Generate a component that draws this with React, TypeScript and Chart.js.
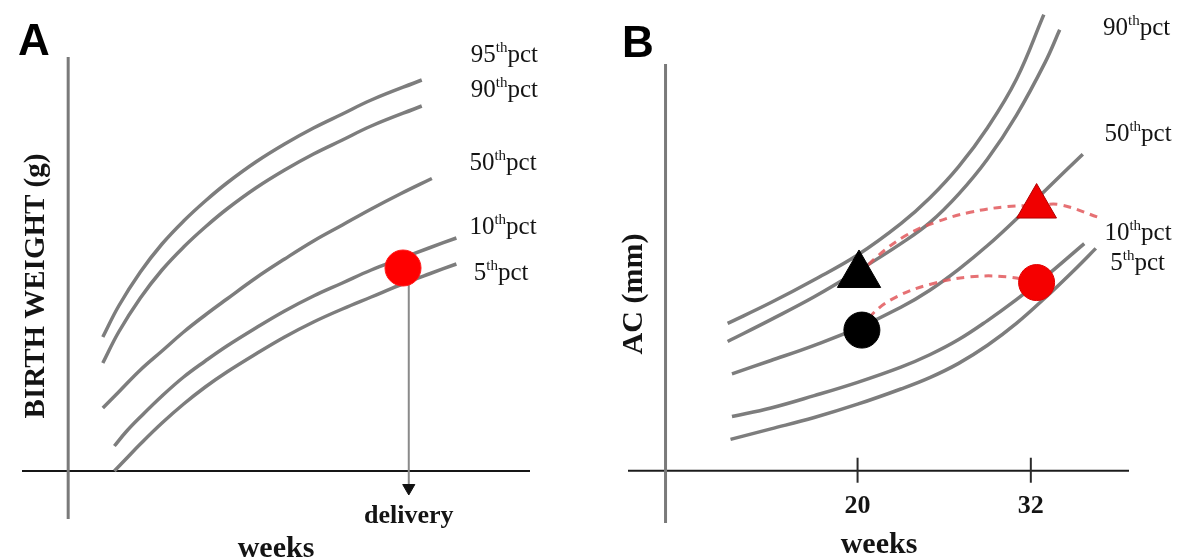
import React, { useEffect, useRef } from "react";
import { Chart, registerables } from "chart.js";

Chart.register(...registerables);

// ---------------- Panel A : birth weight percentiles (x: weeks, y: grams) ----------------
const A_WEEKS_UPPER = [9.4, 10.5, 12, 13.5, 15, 16.5, 18, 20, 22, 24, 26, 28, 31.5];
const A_P95 = [1340, 1650, 1990, 2270, 2500, 2700, 2880, 3090, 3270, 3430, 3570, 3710, 3910];
const A_P90 = [1080, 1390, 1730, 2010, 2240, 2440, 2620, 2830, 3010, 3170, 3310, 3450, 3650];
const A_WEEKS_MID = [9.4, 10.5, 12, 13.5, 15, 16.5, 18, 20, 22, 24, 26, 28, 30, 32.2];
const A_P50 = [630, 790, 1010, 1200, 1390, 1560, 1720, 1930, 2120, 2300, 2460, 2620, 2770, 2925];
const A_WEEKS_LOWER = [10.2, 11, 12, 13.5, 15, 16.5, 18, 20, 22, 24, 26, 28, 30, 32, 33.9];
const A_P10 = [250, 390, 540, 750, 940, 1100, 1250, 1430, 1600, 1750, 1880, 2010, 2120, 2230, 2330];
const A_P5 = [0, 120, 270, 480, 670, 840, 990, 1170, 1340, 1490, 1620, 1740, 1860, 1970, 2070];
const A_DOT_WEEK = [30.2];
const A_DOT_GRAMS = [2030];
const A_DELIVERY_WEEK = 30.6;
const A_ARROW_GRAMS = [2030, -170];
const A_LABELS = ["95", "90", "50", "10", "5"];
const A_LABEL_WEEKS = [34.9, 34.9, 34.8, 34.8, 35.1];
const A_LABEL_GRAMS = [4090, 3740, 3010, 2370, 1910];
const A_X_RANGE = [3.8, 39.0];
const A_Y_RANGE = [-480, 4140];
const A_ORIGIN_WEEK = 7;

// ---------------- Panel B : abdominal circumference percentiles (x: weeks, y: mm) ----------------
const B_WEEKS_L1 = [11, 14, 17, 20, 23, 25, 27, 29, 31, 32.9];
const B_L1 = [155, 177, 201, 227, 260, 287, 320, 361, 412, 480];
const B_WEEKS_L2 = [11, 14, 17, 20, 23, 25, 27, 29, 31, 33, 34];
const B_L2 = [136, 159, 183, 210, 239, 261, 291, 328, 374, 430, 464];
const B_WEEKS_L3 = [11.3, 14, 17, 20, 23, 25, 27, 29, 31, 33, 35.6];
const B_L3 = [102, 116, 132, 150, 172, 190, 212, 237, 265, 295, 333];
const B_WEEKS_L4 = [11.3, 14, 17, 20, 23, 25, 27, 29, 31, 33, 35.7];
const B_L4 = [57, 66, 79, 93, 109, 122, 138, 158, 180, 204, 239];
const B_WEEKS_L5 = [11.2, 14, 17, 20, 23, 25, 27, 29, 31, 33, 35, 36.5];
const B_L5 = [33, 44, 56, 70, 86, 98, 113, 132, 155, 182, 211, 234];
const B_TRI_ARC_WEEKS = [20.1, 21.4, 23.4, 25.5, 27.8, 30.4, 32.4, 34.0, 36.8];
const B_TRI_ARC = [206, 226, 248, 262, 272, 278, 279, 280, 266];
const B_CIRC_ARC_WEEKS = [20.3, 21.1, 22.7, 25.0, 27.8, 30.4, 32.4];
const B_CIRC_ARC = [148, 166, 183, 196, 204, 204, 198];
const B_BLACK_TRI = [{ x: 20.1, y: 206 }];
const B_BLACK_CIRC = [{ x: 20.3, y: 148 }];
const B_RED_TRI = [{ x: 32.4, y: 278 }];
const B_RED_CIRC = [{ x: 32.4, y: 198 }];
const B_TICKS = [20, 32];
const B_LABELS = ["90", "50", "10", "5"];
const B_LABEL_WEEKS = [37.0, 37.1, 37.1, 37.5];
const B_LABEL_MM = [458, 347, 243, 211];
const B_X_RANGE = [4.1, 38.8];
const B_Y_RANGE = [-55, 428];
const B_ORIGIN_WEEK = 6.7;

// ---------------- styling ----------------
const SERIF = "'Liberation Serif', 'Times New Roman', 'DejaVu Serif', serif";
const SANS = "'Liberation Sans', Arial, 'DejaVu Sans', sans-serif";
const CURVE_COLOR = "#7d7d7d";
const TEXT_COLOR = "#141414";

type Pt = { x: number; y: number };
const zip = (xs: number[], ys: number[]): Pt[] => xs.map((x, i) => ({ x, y: ys[i] }));

function curve(label: string, xs: number[], ys: number[]) {
  return {
    label,
    data: zip(xs, ys),
    showLine: true,
    borderColor: CURVE_COLOR,
    borderWidth: 3.5,
    pointRadius: 0,
    tension: 0.4,
    fill: false,
    clip: false,
    order: 4,
  };
}

function dashed(label: string, xs: number[], ys: number[]) {
  return {
    label,
    data: zip(xs, ys),
    showLine: true,
    borderColor: "rgba(226, 88, 92, 0.85)",
    borderWidth: 3,
    borderDash: [8, 6],
    pointRadius: 0,
    tension: 0.4,
    fill: false,
    clip: false,
    order: 2,
  };
}

function marker(label: string, data: Pt[], style: string, radius: number, color: string, border: string) {
  return {
    label,
    data,
    showLine: false,
    pointStyle: style,
    pointRadius: radius,
    pointBackgroundColor: color,
    pointBorderColor: border,
    pointBorderWidth: 1,
    clip: false,
    order: 0,
  };
}

function drawPct(ctx: CanvasRenderingContext2D, x: number, y: number, num: string) {
  ctx.textAlign = "left";
  ctx.textBaseline = "alphabetic";
  ctx.font = `25px ${SERIF}`;
  ctx.fillText(num, x, y);
  let w = ctx.measureText(num).width;
  ctx.font = `15px ${SERIF}`;
  ctx.fillText("th", x + w, y - 10);
  w += ctx.measureText("th").width;
  ctx.font = `25px ${SERIF}`;
  ctx.fillText("pct", x + w, y);
}

type FigCfg = {
  id: string;
  originWeek: number;
  xAxisColor: string;
  yAxisColor: string;
  ticks: number[];
  labels: string[];
  labelWeeks: number[];
  labelValues: number[];
  letter: { text: string; x: number; baseline: number };
  yTitle: { text: string; cx: number; cy: number; size: number };
  xTitle: { text: string; cx: number; baseline: number; size: number };
  delivery?: { week: number; baseline: number };
};

function figurePlugin(cfg: FigCfg) {
  return {
    id: "figure" + cfg.id,
    beforeDatasetsDraw(chart: any) {
      const { ctx, chartArea, scales } = chart;
      const xs = scales.x;
      const ys = scales.y;
      const y0 = ys.getPixelForValue(0);
      const x0 = xs.getPixelForValue(cfg.originWeek);
      ctx.save();
      ctx.lineCap = "butt";
      ctx.strokeStyle = cfg.xAxisColor;
      ctx.lineWidth = 2;
      ctx.beginPath();
      ctx.moveTo(chartArea.left, y0);
      ctx.lineTo(chartArea.right, y0);
      ctx.stroke();
      ctx.strokeStyle = cfg.yAxisColor;
      ctx.lineWidth = 3;
      ctx.beginPath();
      ctx.moveTo(x0, chartArea.top);
      ctx.lineTo(x0, chartArea.bottom);
      ctx.stroke();
      ctx.strokeStyle = "#2a2a2a";
      ctx.lineWidth = 2;
      for (const t of cfg.ticks) {
        const px = xs.getPixelForValue(t);
        ctx.beginPath();
        ctx.moveTo(px, y0 - 13);
        ctx.lineTo(px, y0 + 12);
        ctx.stroke();
      }
      ctx.restore();
    },
    afterDatasetsDraw(chart: any) {
      const { ctx, scales } = chart;
      const xs = scales.x;
      const ys = scales.y;
      const y0 = ys.getPixelForValue(0);
      ctx.save();
      ctx.fillStyle = TEXT_COLOR;
      cfg.labels.forEach((lab, i) => {
        drawPct(ctx, xs.getPixelForValue(cfg.labelWeeks[i]), ys.getPixelForValue(cfg.labelValues[i]), lab);
      });
      ctx.font = `bold 26px ${SERIF}`;
      ctx.textAlign = "center";
      ctx.textBaseline = "alphabetic";
      for (const t of cfg.ticks) {
        ctx.fillText(String(t), xs.getPixelForValue(t), y0 + 42);
      }
      if (cfg.delivery) {
        ctx.font = `bold 26px ${SERIF}`;
        ctx.fillText("delivery", xs.getPixelForValue(cfg.delivery.week), cfg.delivery.baseline);
      }
      ctx.font = `bold ${cfg.xTitle.size}px ${SERIF}`;
      ctx.fillText(cfg.xTitle.text, cfg.xTitle.cx, cfg.xTitle.baseline);
      ctx.font = `bold 44px ${SANS}`;
      ctx.textAlign = "left";
      ctx.fillStyle = "#000";
      ctx.fillText(cfg.letter.text, cfg.letter.x, cfg.letter.baseline);
      ctx.fillStyle = TEXT_COLOR;
      ctx.translate(cfg.yTitle.cx, cfg.yTitle.cy);
      ctx.rotate(-Math.PI / 2);
      ctx.font = `bold ${cfg.yTitle.size}px ${SERIF}`;
      ctx.textAlign = "center";
      ctx.textBaseline = "middle";
      ctx.fillText(cfg.yTitle.text, 0, 0);
      ctx.restore();
    },
  };
}

function baseOptions(xr: number[], yr: number[], padding: any) {
  return {
    responsive: false,
    maintainAspectRatio: false,
    animation: false,
    events: [],
    layout: { padding },
    plugins: { legend: { display: false }, tooltip: { enabled: false }, title: { display: false } },
    scales: {
      x: { type: "linear", min: xr[0], max: xr[1], display: false },
      y: { type: "linear", min: yr[0], max: yr[1], display: false },
    },
  };
}

function configA(): any {
  const arrowPts = zip([A_DELIVERY_WEEK, A_DELIVERY_WEEK], A_ARROW_GRAMS);
  return {
    type: "scatter",
    data: {
      datasets: [
        marker("birth weight", zip(A_DOT_WEEK, A_DOT_GRAMS), "circle", 18, "#ff0000", "#ff1a1a"),
        {
          label: "delivery arrow head",
          data: [arrowPts[1]],
          showLine: false,
          pointStyle: "triangle",
          rotation: 180,
          pointRadius: 7,
          pointBackgroundColor: "#111",
          pointBorderColor: "#111",
          pointBorderWidth: 1,
          clip: false,
          order: 1,
        },
        {
          label: "delivery",
          data: arrowPts,
          showLine: true,
          borderColor: "#8a8a8a",
          borderWidth: 2,
          pointRadius: 0,
          clip: false,
          order: 3,
        },
        curve("95th", A_WEEKS_UPPER, A_P95),
        curve("90th", A_WEEKS_UPPER, A_P90),
        curve("50th", A_WEEKS_MID, A_P50),
        curve("10th", A_WEEKS_LOWER, A_P10),
        curve("5th", A_WEEKS_LOWER, A_P5),
      ],
    },
    options: baseOptions(A_X_RANGE, A_Y_RANGE, { left: 22, right: 60, top: 57, bottom: 41 }),
    plugins: [
      figurePlugin({
        id: "A",
        originWeek: A_ORIGIN_WEEK,
        xAxisColor: "#161616",
        yAxisColor: "#7a7a7a",
        ticks: [],
        labels: A_LABELS,
        labelWeeks: A_LABEL_WEEKS,
        labelValues: A_LABEL_GRAMS,
        letter: { text: "A", x: 18, baseline: 55 },
        yTitle: { text: "BIRTH WEIGHT (g)", cx: 37, cy: 286, size: 29 },
        xTitle: { text: "weeks", cx: 276, baseline: 557, size: 30 },
        delivery: { week: A_DELIVERY_WEEK, baseline: 523 },
      }),
    ],
  };
}

function configB(): any {
  return {
    type: "scatter",
    data: {
      datasets: [
        marker("black triangle", B_BLACK_TRI, "triangle", 25, "#000", "#000"),
        marker("black circle", B_BLACK_CIRC, "circle", 18, "#000", "#000"),
        marker("red triangle", B_RED_TRI, "triangle", 23, "#f00000", "#b00000"),
        marker("red circle", B_RED_CIRC, "circle", 18, "#f50000", "#e00000"),
        dashed("triangle path", B_TRI_ARC_WEEKS, B_TRI_ARC),
        dashed("circle path", B_CIRC_ARC_WEEKS, B_CIRC_ARC),
        curve("90th", B_WEEKS_L1, B_L1),
        curve("75th", B_WEEKS_L2, B_L2),
        curve("50th", B_WEEKS_L3, B_L3),
        curve("10th", B_WEEKS_L4, B_L4),
        curve("5th", B_WEEKS_L5, B_L5),
      ],
    },
    options: baseOptions(B_X_RANGE, B_Y_RANGE, { left: 38, right: 52, top: 64, bottom: 37 }),
    plugins: [
      figurePlugin({
        id: "B",
        originWeek: B_ORIGIN_WEEK,
        xAxisColor: "#1c1c1c",
        yAxisColor: "#7a7a7a",
        ticks: B_TICKS,
        labels: B_LABELS,
        labelWeeks: B_LABEL_WEEKS,
        labelValues: B_LABEL_MM,
        letter: { text: "B", x: 32, baseline: 57 },
        yTitle: { text: "AC (mm)", cx: 44, cy: 294, size: 30 },
        xTitle: { text: "weeks", cx: 289, baseline: 553, size: 30 },
      }),
    ],
  };
}

function Panel({ make, left, width }: { make: () => any; left: number; width: number }) {
  const ref = useRef<HTMLCanvasElement>(null);
  useEffect(() => {
    if (!ref.current) return;
    const chart = new Chart(ref.current, make());
    return () => chart.destroy();
  }, []);
  return (
    <canvas
      ref={ref}
      width={width}
      height={560}
      style={{ position: "absolute", left, top: 0, width, height: 560, display: "block" }}
    />
  );
}

export default function App() {
  return (
    <div
      style={{
        position: "absolute",
        left: 0,
        top: 0,
        width: 1181,
        height: 560,
        background: "#ffffff",
        overflow: "hidden",
      }}
    >
      <Panel make={configA} left={0} width={590} />
      <Panel make={configB} left={590} width={591} />
    </div>
  );
}
